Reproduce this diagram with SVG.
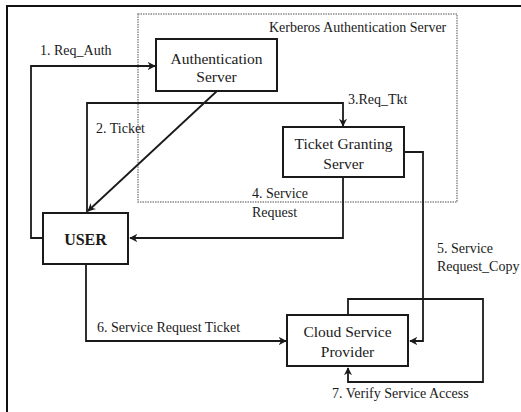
<svg xmlns="http://www.w3.org/2000/svg" width="521" height="412" viewBox="0 0 521 412">
  <defs>
    <marker id="arrow" viewBox="0 0 10 10" refX="9" refY="5" markerWidth="4.5" markerHeight="4.5" orient="auto" markerUnits="strokeWidth">
      <path d="M0,0 L10,5 L0,10 L3,5 Z" fill="#1a1a1a"/>
    </marker>
    <style>
      .frame { fill: none; stroke: #111; stroke-width: 2; }
      .group { fill: none; stroke: #8a8a8a; stroke-width: 1.5; stroke-dasharray: 1.5 1; }
      .box { fill: #fff; stroke: #1a1a1a; stroke-width: 2; }
      .wire { fill: none; stroke: #1a1a1a; stroke-width: 1.8; }
      .arr { marker-end: url(#arrow); }
      .node { font-family: "Liberation Serif", "Times New Roman", serif; font-size: 15.5px; fill: #1a1a1a; text-anchor: middle; }
      .user { font-family: "Liberation Serif", "Times New Roman", serif; font-size: 16px; font-weight: bold; fill: #1a1a1a; text-anchor: middle; }
      .lbl { font-family: "Liberation Serif", "Times New Roman", serif; font-size: 14px; fill: #1a1a1a; }
    </style>
  </defs>

  <rect width="521" height="412" fill="#fff"/>
  <!-- outer frame (open to the right and bottom) -->
  <path class="frame" d="M7,420 V6 H530"/>

  <!-- Kerberos server boundary -->
  <g id="kerberos">
    <rect class="group" x="138" y="14" width="319" height="188"/>
    <text class="lbl" x="269" y="32">Kerberos Authentication Server</text>
  </g>

  <!-- connectors -->
  <g id="connectors">
    <path class="wire arr" d="M43,238 H31 V66 H155"/>
    <text class="lbl" x="40" y="55">1. Req_Auth</text>

    <path class="wire arr" d="M217,91 L88,211"/>
    <text class="lbl" x="96" y="133">2. Ticket</text>

    <path class="wire arr" d="M87,213 V103 H343 V126"/>
    <text class="lbl" x="348" y="104">3.Req_Tkt</text>

    <path class="wire arr" d="M343,177 V238 H130"/>
    <text class="lbl" x="252" y="198">4. Service</text>
    <text class="lbl" x="252" y="217">Request</text>

    <path class="wire arr" d="M404,152 H423 V341 H410"/>
    <text class="lbl" x="437" y="253">5. Service</text>
    <text class="lbl" x="437" y="271">Request_Copy</text>

    <path class="wire arr" d="M86,264 V341 H286"/>
    <text class="lbl" x="97" y="332">6. Service Request Ticket</text>

    <path class="wire arr" d="M348,315 V299 H483 V382 H348 V368"/>
    <text class="lbl" x="332" y="398">7. Verify Service Access</text>
  </g>

  <g id="auth-server">
    <rect class="box" x="156" y="39" width="121" height="52"/>
    <text class="node" x="216.5" y="64">Authentication</text>
    <text class="node" x="216.5" y="82">Server</text>
  </g>

  <g id="tgs">
    <rect class="box" x="283" y="127" width="121" height="50"/>
    <text class="node" x="343.5" y="149">Ticket Granting</text>
    <text class="node" x="343.5" y="169">Server</text>
  </g>

  <g id="user">
    <rect class="box" x="43" y="213" width="85" height="51"/>
    <text class="user" x="85.5" y="245">USER</text>
  </g>

  <g id="csp">
    <rect class="box" x="287" y="315" width="121" height="51"/>
    <text class="node" x="347.5" y="337">Cloud Service</text>
    <text class="node" x="347.5" y="357">Provider</text>
  </g>
</svg>
